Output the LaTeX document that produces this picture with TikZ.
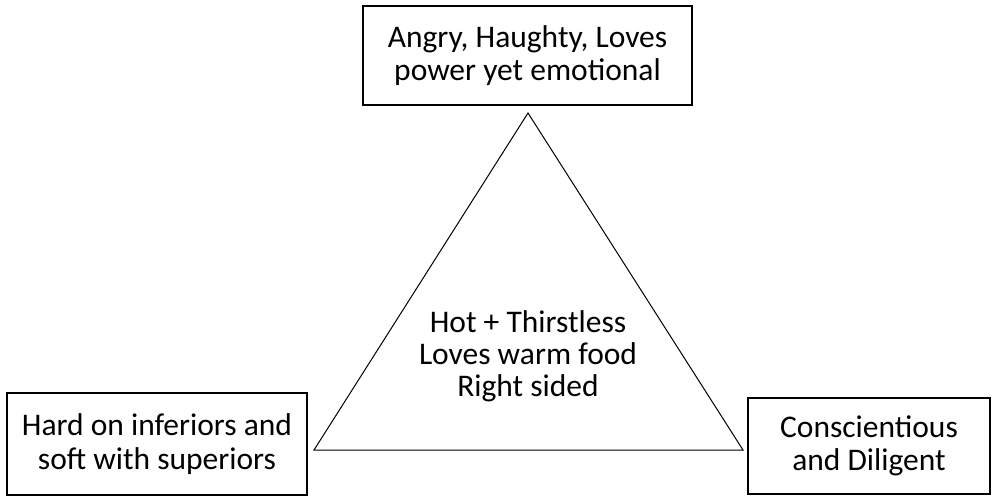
\documentclass[tikz,border=0pt]{standalone}
\usepackage{fontspec}
\setmainfont{Carlito}
\begin{document}
\begin{tikzpicture}[x=1pt,y=-1pt]
			\tikzset{trait box/.style={draw,line width=1.6pt,inner sep=0pt,align=center,font=\fontsize{31.5}{33.5}\selectfont}}
			\tikzset{core text/.style={align=center,inner sep=0pt,font=\fontsize{31.5}{32}\selectfont}}
			\useasboundingbox (0,0) rectangle (992,496);
			\node[trait box,minimum width=329pt,minimum height=99pt] (anger) at (527.5,55.5) {Angry, Haughty, Loves\\power yet emotional};
			\node[trait box,minimum width=300pt,minimum height=102pt] (lower) at (157,444) {Hard on inferiors and\\soft with superiors};
			\node[trait box,minimum width=242pt,minimum height=96pt] (diligent) at (869,446) {Conscientious\\and Diligent};
			\coordinate (apex) at (528,113);
			\coordinate (left corner) at (314,450);
			\coordinate (right corner) at (743,450);
			\draw[line width=1pt] (apex)--(left corner)--(right corner)--cycle;
			\node[core text] (core) at (528,356) {Hot + Thirstless\\Loves warm food\\Right sided};
		\end{tikzpicture}
\end{document}
